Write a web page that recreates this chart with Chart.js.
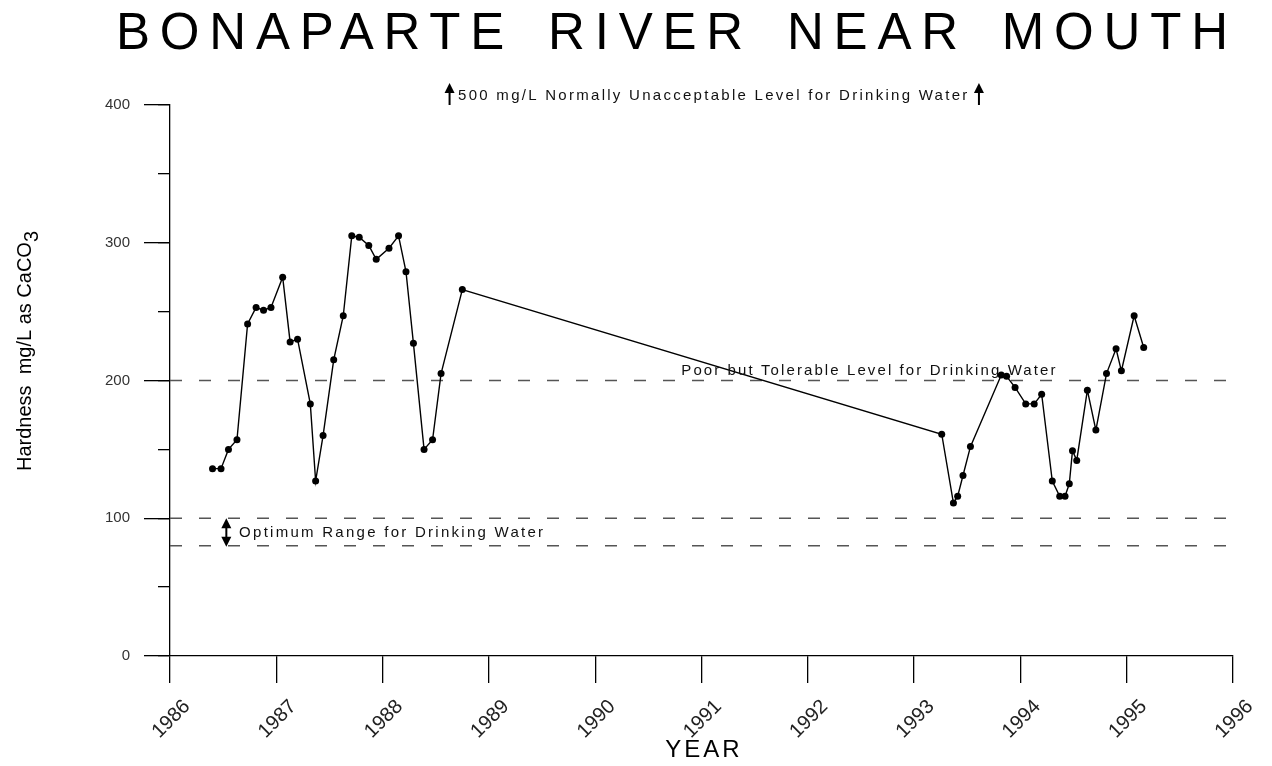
<!DOCTYPE html>
<html>
<head>
<meta charset="utf-8">
<script src="https://cdn.jsdelivr.net/npm/chart.js@4.4.1/dist/chart.umd.min.js"></script>
<style>
  html, body { margin: 0; padding: 0; background: #fff; }
  #chart { display: block; }
</style>
</head>
<body>
<canvas id="chart" width="1272" height="766"></canvas>
<script>
// decimal year of each sample
const years = [
  1986.40, 1986.48, 1986.55, 1986.63, 1986.73, 1986.81, 1986.88, 1986.95,
  1987.06, 1987.13, 1987.20, 1987.32, 1987.37, 1987.44, 1987.54, 1987.63,
  1987.71, 1987.78, 1987.87, 1987.94, 1988.06, 1988.15, 1988.22, 1988.29,
  1988.39, 1988.47, 1988.55, 1988.75,
  1993.26, 1993.37, 1993.41, 1993.46, 1993.53, 1993.82, 1993.87, 1993.95,
  1994.05, 1994.13, 1994.20, 1994.30, 1994.37, 1994.42, 1994.46, 1994.49,
  1994.53, 1994.63, 1994.71, 1994.81, 1994.90, 1994.95, 1995.07, 1995.16
];
// hardness, mg/L as CaCO3
const hardness = [
  136, 136, 150, 157, 241, 253, 251, 253,
  275, 228, 230, 183, 127, 160, 215, 247,
  305, 304, 298, 288, 296, 305, 279, 227,
  150, 157, 205, 266,
  161, 111, 116, 131, 152, 204, 203, 195,
  183, 183, 190, 127, 116, 116, 125, 149,
  142, 193, 164, 205, 223, 207, 247, 224
];

// guideline levels (dashed lines)
const guideLevels = [200, 100, 80];

const xMin = 1986, xMax = 1996;
const yMin = 0, yMax = 400;

const titleText = "BONAPARTE RIVER NEAR MOUTH";
const yTitle = "Hardness  mg/L as CaCO";
const ySub = "3";
const xTitle = "YEAR";
const poorText = "Poor but Tolerable Level for Drinking Water";
const optimumText = "Optimum Range for Drinking Water";
const unacceptText = "500 mg/L Normally Unacceptable Level for Drinking Water";

const FONT = "'Liberation Sans', Arial, sans-serif";

// datasets
const datasets = [{
  data: years.map((yr, i) => ({ x: yr, y: hardness[i] })),
  borderColor: "#000",
  backgroundColor: "#000",
  borderWidth: 1.4,
  pointRadius: 3.5,
  pointBorderWidth: 0,
  tension: 0
}];

guideLevels.forEach(lvl => {
  datasets.push({
    data: [{ x: xMin, y: lvl }, { x: xMax, y: lvl }],
    borderColor: "#555",
    borderWidth: 1.5,
    borderDash: [12, 17],
    pointRadius: 0
  });
});

function spacedText(ctx, text, x, y, ls, ws) {
  ctx.letterSpacing = ls + "px";
  ctx.wordSpacing = (ws || 0) + "px";
  ctx.fillText(text, x, y);
  ctx.letterSpacing = "0px";
  ctx.wordSpacing = "0px";
}

// text stretched so it spans the given width
function fitText(ctx, text, x, y, width) {
  const w = ctx.measureText(text).width;
  spacedText(ctx, text, x, y, (width - w) / (text.length - 1));
}

function upArrow(ctx, x, yBase, yTip) {
  ctx.beginPath();
  ctx.moveTo(x, yBase);
  ctx.lineTo(x, yTip + 8);
  ctx.lineWidth = 2;
  ctx.stroke();
  ctx.beginPath();
  ctx.moveTo(x, yTip);
  ctx.lineTo(x - 5, yTip + 10);
  ctx.lineTo(x + 5, yTip + 10);
  ctx.closePath();
  ctx.fill();
}

function downArrow(ctx, x, yBase, yTip) {
  ctx.beginPath();
  ctx.moveTo(x, yBase);
  ctx.lineTo(x, yTip - 8);
  ctx.lineWidth = 2;
  ctx.stroke();
  ctx.beginPath();
  ctx.moveTo(x, yTip);
  ctx.lineTo(x - 5, yTip - 10);
  ctx.lineTo(x + 5, yTip - 10);
  ctx.closePath();
  ctx.fill();
}

const annotate = {
  id: "annotate",
  afterDraw(chart) {
    const { ctx, scales: { x, y } } = chart;
    ctx.save();
    ctx.fillStyle = "#000";
    ctx.strokeStyle = "#000";
    ctx.textAlign = "left";
    ctx.textBaseline = "alphabetic";

    // main title: fixed letter spacing, the rest goes to the word gaps
    ctx.font = "51px " + FONT;
    const tls = 9.8;
    const tw = ctx.measureText(titleText).width + tls * (titleText.length - 1);
    const words = titleText.split(" ").length - 1;
    spacedText(ctx, titleText, 116, 49, tls, Math.max(0, (1112 - tw) / words));

    // y axis title with subscript
    ctx.save();
    ctx.translate(31, 351);
    ctx.rotate(-Math.PI / 2);
    ctx.font = "20px " + FONT;
    const w1 = ctx.measureText(yTitle).width;
    const w2 = ctx.measureText(ySub).width;
    const start = -(w1 + w2) / 2;
    ctx.fillText(yTitle, start, 0);
    ctx.fillText(ySub, start + w1, 7);
    ctx.restore();

    // x axis title
    ctx.font = "24px " + FONT;
    const xw = ctx.measureText(xTitle).width + 3 * 3;
    spacedText(ctx, xTitle, (x.left + x.right) / 2 - xw / 2 + 1, 757, 3);

    ctx.font = "15px " + FONT;
    ctx.fillStyle = "#111";

    // poor but tolerable
    const p0 = x.getPixelForValue(1990.81), p1 = x.getPixelForValue(1994.33);
    fitText(ctx, poorText, p0, y.getPixelForValue(200) - 6, p1 - p0);

    // optimum range with double arrow
    const y100 = y.getPixelForValue(100), y80 = y.getPixelForValue(80);
    const o0 = x.getPixelForValue(1986.65), o1 = x.getPixelForValue(1989.51);
    fitText(ctx, optimumText, o0, (y100 + y80) / 2 + 5, o1 - o0);
    ctx.fillStyle = "#000";
    const ax = x.getPixelForValue(1986.53);
    const mid = (y100 + y80) / 2;
    upArrow(ctx, ax, mid, y100);
    downArrow(ctx, ax, mid, y80 + 1);

    // 500 mg/L note with up arrows
    const top = y.getPixelForValue(400);
    ctx.fillStyle = "#111";
    const u0 = x.getPixelForValue(1988.71), u1 = x.getPixelForValue(1993.50);
    fitText(ctx, unacceptText, u0, top - 5, u1 - u0);
    ctx.fillStyle = "#000";
    upArrow(ctx, x.getPixelForValue(1988.63), top, top - 22);
    upArrow(ctx, x.getPixelForValue(1993.61), top, top - 22);

    ctx.restore();
  }
};

const chart = new Chart(document.getElementById("chart").getContext("2d"), {
  type: "line",
  data: { datasets },
  plugins: [annotate],
  options: {
    responsive: false,
    animation: false,
    devicePixelRatio: 1,
    layout: { padding: { top: 105, right: 39, bottom: 0, left: 0 } },
    plugins: {
      legend: { display: false },
      tooltip: { enabled: false },
      title: { display: false }
    },
    scales: {
      x: {
        type: "linear",
        min: xMin,
        max: xMax,
        afterFit: s => { s.height = 110; },
        grid: { drawOnChartArea: false, tickLength: 27, color: "#000", lineWidth: 1.3 },
        border: { color: "#000", width: 1.3 },
        ticks: {
          stepSize: 1,
          minRotation: 45,
          maxRotation: 45,
          labelOffset: 17,
          padding: 12,
          color: "#222",
          font: { family: FONT, size: 20 },
          callback: v => String(v)
        }
      },
      y: {
        position: "left",
        weight: 1,
        min: yMin,
        max: yMax,
        afterFit: s => { s.width = 170; },
        grid: { drawOnChartArea: false, tickLength: 26, color: "#000", lineWidth: 1.3 },
        border: { color: "#000", width: 1.3 },
        ticks: {
          stepSize: 100,
          padding: 14,
          color: "#333",
          font: { family: FONT, size: 15 }
        }
      },
      yMinor: {
        position: "left",
        weight: 0,
        min: yMin,
        max: yMax,
        afterFit: s => { s.width = 0; },
        grid: { drawOnChartArea: false, tickLength: 12, color: "#000", lineWidth: 1.3 },
        border: { display: false },
        ticks: { stepSize: 50, display: false }
      }
    }
  }
});
</script>
</body>
</html>
